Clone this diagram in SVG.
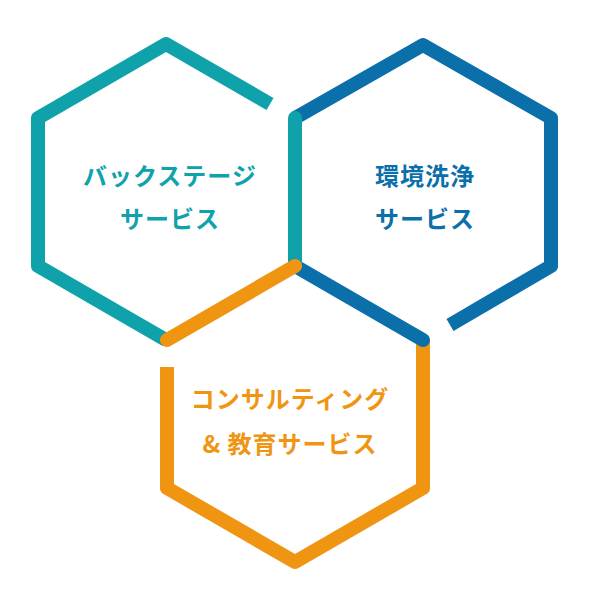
<svg xmlns="http://www.w3.org/2000/svg" width="600" height="600" viewBox="0 0 600 600">
<style>
.s{fill:none;stroke-width:14;stroke-linejoin:round}
.t{stroke:#0fa2ab}.b{stroke:#0b6faa}.o{stroke:#ef9512}
.r{stroke-linecap:round}
text{font-family:"Noto Sans CJK JP","Noto Sans",sans-serif;font-size:24px;font-weight:bold;text-anchor:middle;letter-spacing:1px}
</style>
<rect width="600" height="600" fill="#fff"/>
<g id="connectors">
<path class="s o" d="M423,340 L423,488 L295,562 L167,488 L167,367"/>
<path class="s b r" d="M423,340 L295,266"/>
<path class="s b" d="M450,325 L551,266 L551,118 L423,45 L295,118"/>
<path class="s t" d="M270,104 L166,44 L38,118 L38,266 L166,340"/>
<path class="s t r" d="M295,118 L295,266"/>
<path class="s o r" d="M167,340 L295,266"/>
</g>
<g id="backstage" fill="#0fa2ab">
<text x="170" y="185">バックステージ</text>
<text x="170" y="228">サービス</text>
</g>
<g id="kankyo" fill="#0b6faa">
<text x="425" y="185">環境洗浄</text>
<text x="425" y="228">サービス</text>
</g>
<g id="consulting" fill="#ef9512">
<text x="290" y="408">コンサルティング</text>
<text x="290" y="453">&amp; 教育サービス</text>
</g>
</svg>
